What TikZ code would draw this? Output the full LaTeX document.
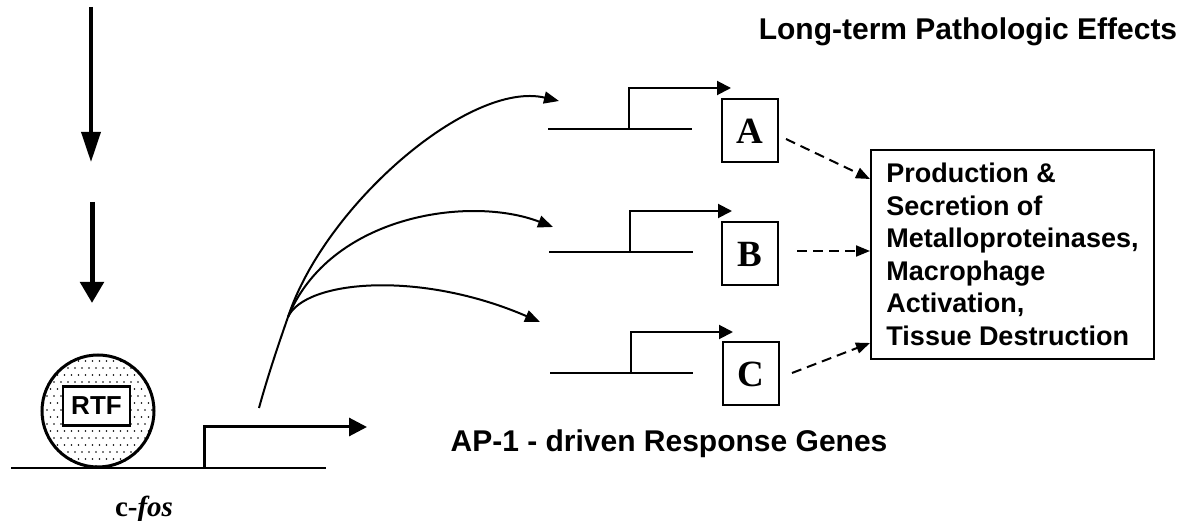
\documentclass[tikz,border=0pt]{standalone}
\usepackage{fontspec}
\setmainfont{Liberation Serif}
\newfontfamily\arialf{Liberation Sans}
\usetikzlibrary{arrows.meta,calc}

\begin{document}
\begin{tikzpicture}[x=1pt,y=-1pt,
  geneline/.style={line width=2pt},
  genearrow/.style={line width=2pt,-{Triangle[length=14pt,width=14pt]}},
  curvearrow/.style={line width=2pt,-{Triangle[length=15pt,width=12pt]}},
  dasharrow/.style={line width=2pt,dash pattern=on 10pt off 6pt,-{Triangle[length=14pt,width=11pt]}},
  letterbox/.style={draw,line width=2pt,minimum width=56pt,minimum height=63pt,inner sep=0pt,
    font=\fontsize{37}{40}\selectfont\bfseries},
  sanslabel/.style={font=\arialf\bfseries\fontsize{30}{36}\selectfont,inner sep=0pt}
]
\useasboundingbox (0,0) rectangle (1195,521);

% upstream signalling arrows
\coordinate (v1s) at (91,7);
\coordinate (v1e) at (91,162);
\coordinate (v2s) at (92,202);
\coordinate (v2e) at (92,303);
\draw[line width=3.5pt,-{Triangle[length=30pt,width=19pt]}] (v1s) -- (v1e);
\draw[line width=5pt,-{Triangle[length=21pt,width=23pt]}] (v2s) -- (v2e);

% stippled transcription factor bound to the c-fos promoter
\begin{scope}
  \clip (98,411) circle (55);
  \foreach \j in {0,...,17}{
    \foreach \i in {0,...,17}{
      \fill ({40+7*\i+3.5*mod(\j,2)},{354+7*\j}) circle (0.95);
    }
  }
\end{scope}
\node[circle,draw,line width=3pt,minimum size=112pt,inner sep=0pt] (rtfc) at (98,411) {};
\node[draw,fill=white,line width=2.5pt,minimum width=67pt,minimum height=39pt,inner sep=0pt,
  font=\arialf\bfseries\fontsize{26}{30}\selectfont] (rtf) at (96.5,406) {RTF};

% c-fos gene and its transcription start
\coordinate (fosL) at (11,468);
\coordinate (fosR) at (326,468);
\coordinate (fosP) at (204,468);
\coordinate (fosT) at (204,427);
\coordinate (fosE) at (367,427);
\draw[line width=2.5pt] (fosL) -- (fosR);
\draw[line width=3pt,-{Triangle[length=18pt,width=18pt]}] (fosP) -- (fosT) -- (fosE);
\node[inner sep=0pt,anchor=base,font=\fontsize{29}{32}\selectfont\bfseries] (fos) at (144,516) {c-\textit{fos}};

% AP-1 target genes with their start sites
\foreach \n/\y/\dx in {A/129/0,B/252/1,C/373/2}{
  \coordinate (\n L) at (548+\dx,\y);
  \coordinate (\n R) at (692+\dx/2,\y);
  \coordinate (\n P) at (629+\dx,\y);
  \coordinate (\n T) at (629+\dx,\y-41);
  \coordinate (\n E) at (731+\dx,\y-41);
  \draw[geneline] (\n L) -- (\n R);
  \draw[genearrow] (\n P) -- (\n T) -- (\n E);
}

\node[letterbox] (A) at (750,131) {A};
\node[letterbox] (B) at (750,254) {B};
\node[letterbox] (C) at (751,374) {C};

% branching induction curves from c-fos
\coordinate (src) at (259,408);
\coordinate (br) at (288,317);
\coordinate (tA) at (559,101);
\coordinate (tB) at (553,227);
\coordinate (tC) at (540,322);
\draw[curvearrow] (src) .. controls (268,375) and (280,340) .. (br)
  .. controls (325,205) and (470,80) .. (tA);
\draw[curvearrow] (br) .. controls (330,215) and (470,195) .. (tB);
\draw[curvearrow] (br) .. controls (305,280) and (420,270) .. (tC);

% effects box
\node[draw,line width=2pt,anchor=north west,minimum width=283pt,minimum height=209pt,
  inner sep=0pt,align=left,font=\arialf\bfseries\fontsize{27}{32.5}\selectfont] (eff) at (870,149)
  {Production \&\\Secretion of\\Metalloproteinases,\\Macrophage\\Activation,\\Tissue Destruction};

\draw[dasharrow] ($(A.east)+(7,8)$) -- ($(eff.north west)+(0,30)$);
\draw[dasharrow] ($(B.east)+(18,-3)$) -- ($(eff.north west)+(0,102)$);
\draw[dasharrow] ($(C.east)+(12,-1)$) -- ($(eff.north west)+(0,194)$);

% labels
\node[sanslabel,anchor=base] (lte) at (968,40) {Long-term Pathologic Effects};
\node[sanslabel,anchor=base] (ap1) at (669,451) {AP-1 - driven Response Genes};
\end{tikzpicture}
\end{document}
